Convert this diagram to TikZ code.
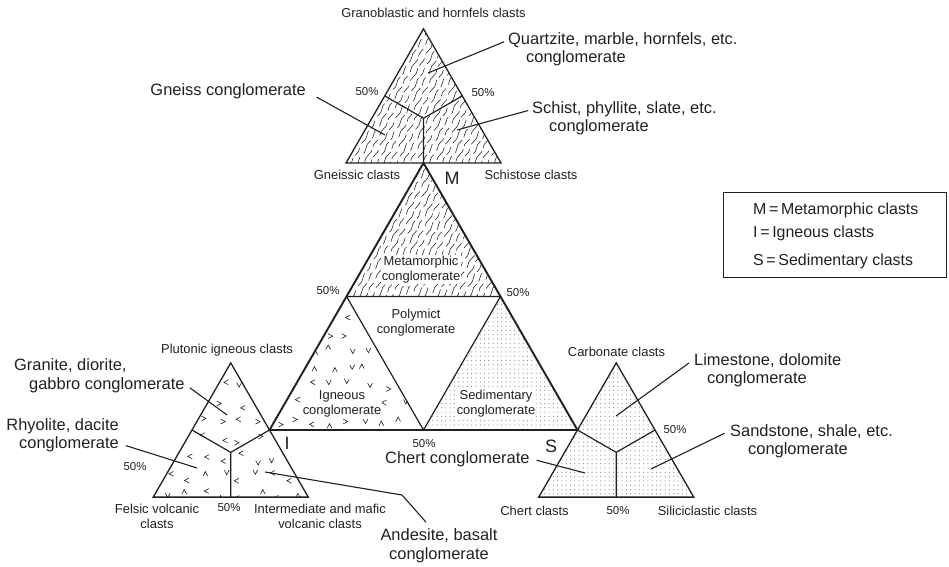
\documentclass[tikz,border=0pt]{standalone}
\usepackage{fontspec}
\setmainfont{Liberation Sans}
\usetikzlibrary{calc,decorations.pathmorphing}
\definecolor{ink}{HTML}{231F20}
\definecolor{dotgray}{HTML}{8C8C8C}

\begin{document}
\begin{tikzpicture}[x=1bp, y=-1bp, ink,
    clast/.style={font=\fontsize{13}{15}\selectfont, inner sep=1bp, text=ink},
    big/.style={font=\fontsize{16.5}{19}\selectfont, inner sep=1bp, text=ink},
    pct/.style={font=\fontsize{11.5}{13}\selectfont, inner sep=1bp, text=ink},
    corner/.style={font=\fontsize{18}{20}\selectfont, inner sep=1bp, text=ink},
    field/.style={font=\fontsize{13}{15}\selectfont, align=center, inner sep=1bp,
      fill=white, text=ink},
    keytext/.style={font=\fontsize{16}{18}\selectfont, inner sep=1bp, text=ink,
      anchor=base west},
    outline/.style={draw=ink, line width=1.3bp, line join=miter},
    thickline/.style={draw=ink, line width=1.9bp, line join=miter},
    divide/.style={draw=ink, line width=1.2bp},
    leader/.style={draw=ink, line width=1.1bp},
    hatch/.style={draw=ink, line width=0.55bp, decorate,
      decoration={snake, amplitude=0.8bp, segment length=15bp}},
    vmark/.style={draw=ink, line width=0.6bp},
  ]
  \useasboundingbox (0,0) rectangle (949,567);

  % main triangle M-I-S and its inner triangle
  \coordinate (M) at (423.5,163);
  \coordinate (I) at (269.5,430);
  \coordinate (S) at (577.5,430);
  \coordinate (MI) at ($(M)!0.5!(I)$);
  \coordinate (MS) at ($(M)!0.5!(S)$);
  \coordinate (IS) at ($(I)!0.5!(S)$);

  % the three small triangles, side 155
  \coordinate (ga) at (423.5,28.8);
  \coordinate (gl) at (346,163);
  \coordinate (gr) at (501,163);
  \coordinate (pa) at ($(I)+(-38.75,-67.1)$);
  \coordinate (pl) at ($(I)+(-116.25,67.1)$);
  \coordinate (pr) at ($(I)+(38.75,67.1)$);
  \coordinate (ca) at ($(S)+(38.75,-67.1)$);
  \coordinate (cl) at ($(S)+(-38.75,67.1)$);
  \coordinate (cr) at ($(S)+(116.25,67.1)$);
  \coordinate (gc) at (barycentric cs:ga=1,gl=1,gr=1);
  \coordinate (pc) at (barycentric cs:pa=1,pl=1,pr=1);
  \coordinate (cc) at (barycentric cs:ca=1,cl=1,cr=1);

  % metamorphic hatching
  \begin{scope}
    \clip (ga) -- (gl) -- (gr) -- cycle (M) -- (MI) -- (MS) -- cycle;
    \foreach \k in {0,...,40}{
      \pgfmathsetmacro\ph{mod(\k*11,31)}
      \draw[hatch, dash pattern=on 15bp off 3bp on 9bp off 5bp, dash phase=\ph bp]
        (250+\k*6.5,305) -- ++(175,-305);
    }
  \end{scope}

  % igneous v marks
  \pgfmathsetseed{17}
  \begin{scope}
    \clip (MI) -- (I) -- (IS) -- cycle (pa) -- (pl) -- (pr) -- cycle;
    \foreach \gx in {0,...,15}{
      \foreach \gy in {0,...,11}{
        \pgfmathsetmacro\vx{150+\gx*18+rand*5}
        \pgfmathsetmacro\vy{296+\gy*18+rand*5}
        \pgfmathsetmacro\va{90*random(0,3)}
        \draw[vmark, shift={(\vx,\vy)}, rotate=\va] (-2.4,-2.4) -- (0,2.2) -- (2.4,-2.4);
      }
    }
  \end{scope}

  % sedimentary dots
  \begin{scope}
    \clip (MS) -- (IS) -- (S) -- cycle (ca) -- (cl) -- (cr) -- cycle;
    \foreach \dx in {420,424.3,...,700}{
      \foreach \dy in {296,300.3,...,500}
        \fill[dotgray] (\dx,\dy) circle (0.6);
    }
  \end{scope}

  % field names in the main triangle
  \node[field] (metac) at (421,269.5) {Metamorphic\\conglomerate};
  \node[field] (polyc) at (416,322.5) {Polymict\\conglomerate};
  \node[field] (ignc) at (342,403.5) {Igneous\\conglomerate};
  \node[field] (sedc) at (496,403.5) {Sedimentary\\conglomerate};

  % outlines
  \draw[thickline] (M) -- (I) -- (S) -- cycle;
  \draw[divide] (MI) -- (MS) -- (IS) -- cycle;
  \draw[outline] (ga) -- (gl) -- (gr) -- cycle;
  \draw[divide] (gc) -- ($(ga)!0.5!(gl)$) (gc) -- ($(ga)!0.5!(gr)$) (gc) -- (M);
  \draw[outline] (pa) -- (pl) -- (pr) -- cycle;
  \draw[divide] (pc) -- ($(pa)!0.5!(pl)$) (pc) -- (I) (pc) -- ($(pl)!0.5!(pr)$);
  \draw[outline] (ca) -- (cl) -- (cr) -- cycle;
  \draw[divide] (cc) -- (S) (cc) -- ($(ca)!0.5!(cr)$) (cc) -- ($(cl)!0.5!(cr)$);

  % corner letters and 50% marks of the main triangle
  \node[corner] (mlbl) at (452,178) {M};
  \node[corner] (ilbl) at (287,443) {I};
  \node[corner] (slbl) at (551,446) {S};
  \node[pct] (pmi) at (328,291) {50\%};
  \node[pct] (pms) at (518,293) {50\%};
  \node[pct] (pis) at (424,444) {50\%};

  % metamorphic triangle
  \node[clast] (granob) at (433.5,13) {Granoblastic and hornfels clasts};
  \node[clast] (gneissic) at (357,175) {Gneissic clasts};
  \node[clast] (schistose) at (531,175) {Schistose clasts};
  \node[pct] (pgl) at (367,92) {50\%};
  \node[pct] (pgr) at (483,93) {50\%};
  \node[big, anchor=base west] (qz1) at (507,45) {Quartzite, marble, hornfels, etc.};
  \node[big, anchor=base west] (qz2) at (525,63) {conglomerate};
  \node[big, anchor=base west] (sc1) at (531,114) {Schist, phyllite, slate, etc.};
  \node[big, anchor=base west] (sc2) at (548,132) {conglomerate};
  \node[big, anchor=base east] (gn) at (307,96) {Gneiss conglomerate};
  \coordinate (qzend) at (428,73);
  \coordinate (scend) at (457,130);
  \coordinate (gnend) at (385,135);
  \draw[leader, shorten <=3bp] (qz1.west) -- (qzend);
  \draw[leader, shorten <=3bp] (sc1.west) -- (scend);
  \draw[leader, shorten <=11bp] (gn.east) -- (gnend);

  % igneous triangle
  \node[clast] (plut) at (227,350) {Plutonic igneous clasts};
  \node[big, anchor=base west] (gr1) at (13,370) {Granite, diorite,};
  \node[big, anchor=base west] (gr2) at (28,389) {gabbro conglomerate};
  \node[big, anchor=base east] (rh1) at (120,430) {Rhyolite, dacite};
  \node[big, anchor=base east] (rh2) at (120,448) {conglomerate};
  \node[pct] (ppl) at (135,467) {50\%};
  \node[pct] (ppb) at (229,508) {50\%};
  \node[clast, align=center] (felsic) at (157,516.5) {Felsic volcanic\\clasts};
  \node[clast, align=center] (interm) at (320,516.5) {Intermediate and mafic\\volcanic clasts};
  \node[big, align=center] (andes) at (439,545.5) {Andesite, basalt\\conglomerate};
  \coordinate (grend) at (227,415);
  \coordinate (rhend) at (197,468);
  \coordinate (andbend) at (402,495);
  \coordinate (andend) at (265,472);
  \draw[leader, shorten <=5bp] (gr2.east) -- (grend);
  \draw[leader, shorten <=6bp] (rh2.east) -- (rhend);
  \draw[leader] ([xshift=-13bp,yshift=5bp]andes.north) -- (andbend) -- (andend);

  % sedimentary triangle
  \node[clast] (carb) at (616.5,352) {Carbonate clasts};
  \node[big, anchor=base west] (ls1) at (693,365) {Limestone, dolomite};
  \node[big, anchor=base west] (ls2) at (706,383) {conglomerate};
  \node[pct] (pcr) at (675,430) {50\%};
  \node[big, anchor=base west] (ss1) at (729,436) {Sandstone, shale, etc.};
  \node[big, anchor=base west] (ss2) at (747,454) {conglomerate};
  \node[big, anchor=base west] (chert) at (384,463) {Chert conglomerate};
  \node[clast] (chc) at (534.5,511) {Chert clasts};
  \node[pct] (pcb) at (618,511) {50\%};
  \node[clast] (silic) at (707.5,511) {Siliciclastic clasts};
  \coordinate (lsend) at (616,416);
  \coordinate (ssend) at (651,469);
  \coordinate (chend) at (585,473);
  \draw[leader, shorten <=5bp] (ls1.west) -- (lsend);
  \draw[leader, shorten <=5bp] (ss1.west) -- (ssend);
  \draw[leader, shorten <=6bp] (chert.east) -- (chend);

  % key
  \node[draw=ink, line width=1.1bp, minimum width=223bp, minimum height=85bp,
    anchor=north west, inner sep=0] (key) at (723,192) {};
  \node[keytext] (keym) at (752,215) {M\,=\,Metamorphic clasts};
  \node[keytext] (keyi) at (752,237.5) {I\,=\,Igneous clasts};
  \node[keytext] (keys) at (752,266) {S\,=\,Sedimentary clasts};
\end{tikzpicture}
\end{document}
